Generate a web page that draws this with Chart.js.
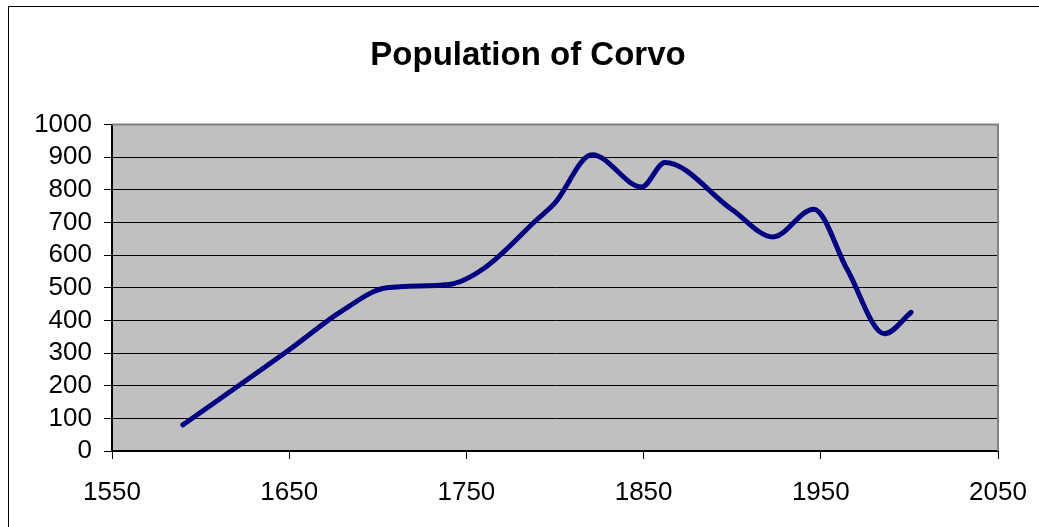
<!DOCTYPE html>
<html>
<head>
<meta charset="utf-8">
<title>Population of Corvo</title>
<script src="https://cdn.jsdelivr.net/npm/chart.js@4/dist/chart.umd.min.js"></script>
<style>
    html, body { margin: 0; padding: 0; background: #fff; overflow: hidden; }
    #frame { position: absolute; left: 8px; top: 6px; width: 1100px; height: 600px; border-left: 1px solid #000; border-top: 1px solid #000; }
    #popChart { position: absolute; left: 0; top: 0; }
</style>
</head>
<body>
<div id="frame"></div>
<canvas id="popChart" width="1039" height="527"></canvas>
<script>
var years = [1590, 1650, 1680, 1705, 1740, 1760, 1790, 1800, 1821, 1849, 1862, 1900, 1923, 1946, 1965, 1986, 2001];
var population = [80, 310, 430, 500, 510, 560, 710, 760, 908, 809, 884, 739, 656, 741, 555, 359, 425];
var chartTitle = "Population of Corvo";

var points = years.map(function (y, i) { return {x: y, y: population[i]}; });

// grey plot area like the old spreadsheet charts
var plotBackground = {
    id: "plotBackground",
    afterLayout: function (chart) {
        // title sits a little right of the canvas centre
        if (chart.titleBlock) {
            chart.titleBlock.left += 9;
        }
    },
    beforeDraw: function (chart) {
        var a = chart.chartArea;
        var ctx = chart.ctx;
        ctx.save();
        ctx.fillStyle = "#c0c0c0";
        ctx.fillRect(a.left, a.top, a.right - a.left, a.bottom - a.top);
        ctx.restore();
    },
    afterDatasetsDraw: function (chart) {
        var a = chart.chartArea;
        var ctx = chart.ctx;
        ctx.save();
        ctx.strokeStyle = "#808080";
        ctx.lineWidth = 2;
        ctx.beginPath();
        ctx.moveTo(a.left, a.top);
        ctx.lineTo(a.right, a.top);
        ctx.lineTo(a.right, a.bottom);
        ctx.stroke();
        ctx.restore();
    }
};

var tickFont = {family: "'Liberation Sans', Arial, sans-serif", size: 26};

new Chart(document.getElementById("popChart"), {
    type: "line",
    data: {
        datasets: [{
            data: points,
            borderColor: "#000080",
            borderWidth: 5,
            borderCapStyle: "round",
            borderJoinStyle: "round",
            pointRadius: 0,
            cubicInterpolationMode: "monotone",
            fill: false
        }]
    },
    options: {
        responsive: false,
        animation: false,
        devicePixelRatio: 1,
        layout: {padding: {left: 8, right: 0, bottom: 0, top: 0}},
        plugins: {
            legend: {display: false},
            tooltip: {enabled: false},
            title: {
                display: true,
                text: chartTitle,
                color: "#000",
                font: {family: "'Liberation Sans', Arial, sans-serif", size: 33, weight: "bold"},
                padding: {top: 36, bottom: 49}
            }
        },
        scales: {
            x: {
                type: "linear",
                min: 1550,
                max: 2050,
                ticks: {stepSize: 100, autoSkip: false, color: "#000", font: tickFont, padding: 18, maxRotation: 0, callback: function (v) { return String(v); }},
                grid: {drawOnChartArea: false, drawTicks: true, tickLength: 8, color: "#000", tickColor: "#000"},
                border: {color: "#000", width: 2},
                afterFit: function (s) {
                    s.height = 76;
                    s.paddingLeft = 0;
                    s.paddingRight = 41;
                }
            },
            y: {
                min: 0,
                max: 1000,
                ticks: {stepSize: 100, autoSkip: false, color: "#000", font: tickFont, padding: 12, callback: function (v) { return String(v); }},
                grid: {color: "#000", lineWidth: 1, tickLength: 8, tickColor: "#000"},
                border: {color: "#000", width: 2},
                afterFit: function (s) { s.width = 104; }
            }
        }
    },
    plugins: [plotBackground]
});
</script>
</body>
</html>
